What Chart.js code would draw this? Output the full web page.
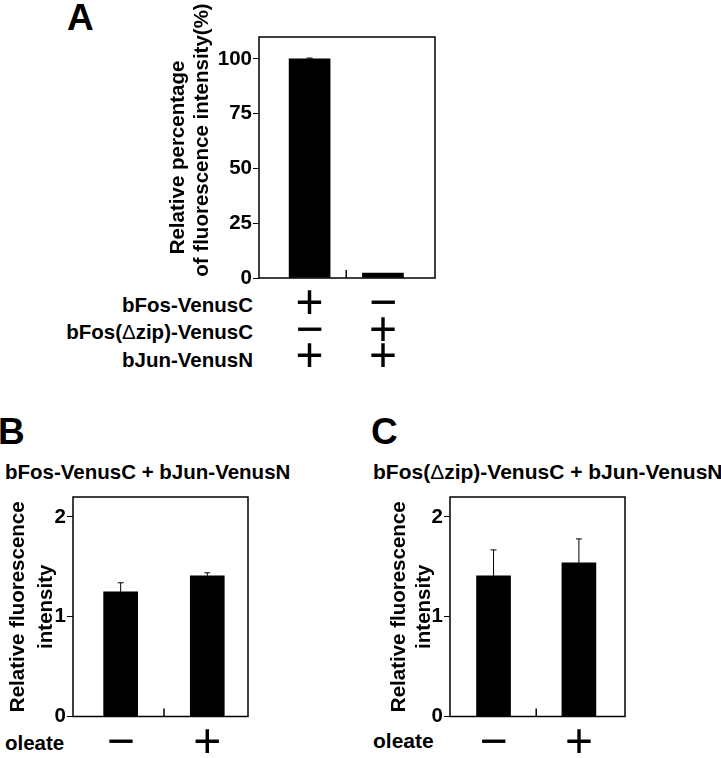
<!DOCTYPE html>
<html><head><meta charset="utf-8">
<script src="https://cdn.jsdelivr.net/npm/chart.js@4.4.1/dist/chart.umd.min.js"></script>
<style>
html,body{margin:0;padding:0;background:#fff;}
body{width:721px;height:758px;position:relative;overflow:hidden;font-family:'Liberation Sans',Arial,sans-serif;color:#000;}
.t{position:absolute;white-space:nowrap;font-weight:bold;font-size:20.5px;line-height:20px;}
.r{text-align:right;}
.panel{position:absolute;font-weight:bold;line-height:1;white-space:nowrap;font-size:37px;}
.d{font-weight:normal;}
canvas{position:absolute;}
</style></head><body>
<div class="panel" style="left:67px;top:-1px;">A</div>
<div class="panel" style="left:-2px;top:413px;">B</div>
<div class="panel" style="left:371px;top:413px;">C</div>
<div id="rows"></div>
<div class="t" id="subB" style="left:5px;top:462px;"></div>
<div class="t" id="subC" style="left:373px;top:462px;font-size:21px;"></div>
<div class="t" style="left:5px;top:733px;">oleate</div>
<div class="t" style="left:373px;top:731px;font-size:21px;">oleate</div>
<canvas id="cA" width="480" height="395" style="left:0;top:0;"></canvas>
<canvas id="cB" width="300" height="378" style="left:0;top:380px;"></canvas>
<canvas id="cC" width="361" height="378" style="left:360px;top:380px;"></canvas>
<script>
// ---------- data ----------
const barPositions = [1, 2];
const constructRows = ['bFos-VenusC', 'bFos(\u0394zip)-VenusC', 'bJun-VenusN'];
const signsA = [['+', '\u2212', '+'], ['\u2212', '+', '+']];   // per bar: rows top→bottom
const valuesA = [100, 2.3];
const errorsA = [0.4, 0];
const yTicksA = [0, 25, 50, 75, 100];
const titleA = ['Relative percentage', 'of fluorescence intensity(%)'];

const oleateSigns = ['\u2212', '+'];
const subtitleB = 'bFos-VenusC + bJun-VenusN';
const valuesB = [1.25, 1.41];
const errorsB = [0.09, 0.03];
const subtitleC = 'bFos(\u0394zip)-VenusC + bJun-VenusN';
const valuesC = [1.41, 1.54];
const errorsC = [0.26, 0.24];
const yTicksBC = [0, 1, 2];
const titleBC = ['Relative fluorescence', 'intensity'];

// ---------- text ----------
function withDelta(s) {
  return s.replace('\u0394', '<span class="d">\u0394</span>');
}
const rowTops = [295.2, 321.9, 350.2];
document.getElementById('rows').innerHTML = constructRows.map((r, i) =>
  '<div class="t r" style="right:468px;top:' + rowTops[i] + 'px;">' + withDelta(r) + '</div>').join('');
document.getElementById('subB').innerHTML = withDelta(subtitleB);
document.getElementById('subC').innerHTML = withDelta(subtitleC);

// ---------- charts ----------
const FONT = 'Liberation Sans';
function makeChart(id, o) {
  const cv = document.getElementById(id);
  const W = cv.width, H = cv.height;
  const deco = {
    id: 'deco',
    afterDatasetsDraw(chart) {
      const {ctx, chartArea: a, scales: {x, y}} = chart;
      ctx.save();
      ctx.strokeStyle = '#000';
      ctx.lineWidth = 1;
      const meta = chart.getDatasetMeta(0);
      meta.data.forEach((el, i) => {
        const e = o.errors[i];
        if (!e) return;
        const yt = y.getPixelForValue(o.values[i] + e);
        ctx.beginPath();
        ctx.moveTo(el.x, el.y); ctx.lineTo(el.x, yt);
        ctx.moveTo(el.x - 3, yt); ctx.lineTo(el.x + 3, yt);
        ctx.stroke();
      });
      const xm = x.getPixelForValue((barPositions[0] + barPositions[1]) / 2);
      ctx.lineWidth = 1.5;
      ctx.beginPath(); ctx.moveTo(xm, a.bottom); ctx.lineTo(xm, a.bottom - 8); ctx.stroke();
      ctx.strokeRect(a.left, a.top, a.right - a.left, a.bottom - a.top);
      if (o.extraTitle) {
        // second title line, centred on its own height (as in the original figure)
        ctx.translate(o.extraTitle.x, o.extraTitle.y);
        ctx.rotate(-Math.PI / 2);
        ctx.fillStyle = '#000';
        ctx.font = 'bold 20.5px "' + FONT + '"';
        ctx.textAlign = 'center';
        ctx.textBaseline = 'middle';
        ctx.fillText(o.extraTitle.text, 0, 0);
      }
      ctx.restore();
    }
  };
  return new Chart(cv, {
    type: 'bar',
    data: { datasets: [{
      data: barPositions.map((p, i) => ({x: p, y: o.values[i]})),
      backgroundColor: '#000', borderWidth: 0, barThickness: o.barThickness
    }]},
    options: {
      responsive: false, animation: false, devicePixelRatio: 1,
      layout: { padding: { left: 0, top: o.area.top, right: W - o.area.right, bottom: 0 } },
      plugins: { legend: {display: false}, tooltip: {enabled: false} },
      scales: {
        x: {
          type: 'linear', min: o.xMin, max: o.xMax, offset: false,
          afterBuildTicks: s => { s.ticks = barPositions.map(v => ({value: v})); },
          afterFit: s => { s.height = H - o.area.bottom; },
          grid: { display: false, drawTicks: false }, border: { display: false },
          ticks: {
            autoSkip: false, maxRotation: 0, minRotation: 0, padding: o.xPad, color: '#000',
            font: { family: FONT, size: 48, weight: 'normal', lineHeight: o.xLine },
            callback: v => o.xLabels[barPositions.indexOf(v)]
          }
        },
        y: {
          type: 'linear', min: 0, max: o.yMax,
          afterBuildTicks: s => { s.ticks = o.yTicks.map(v => ({value: v})); },
          afterFit: s => { s.width = o.area.left; },
          grid: { drawOnChartArea: false, drawTicks: true, tickLength: 6, color: '#000', lineWidth: 1 },
          border: { display: false },
          ticks: { padding: 1, color: '#000', font: { family: FONT, size: 20.5, weight: 'bold' } },
          title: {
            display: true, text: o.title, color: '#000', padding: { top: o.titlePad, bottom: 0 },
            font: { family: FONT, size: 20.5, weight: 'bold', lineHeight: o.titleLine }
          }
        }
      }
    },
    plugins: [deco]
  });
}

makeChart('cA', {
  values: valuesA, errors: errorsA, yTicks: yTicksA, yMax: 110,
  xMin: 0.31, xMax: 2.71, barThickness: 41,
  xLabels: signsA, xLine: '26.5px', xPad: 14,
  title: titleA[0], titleLine: '24px', titlePad: 166.5,
  extraTitle: { text: titleA[1], x: 202.5, y: 140 },
  area: { left: 259, top: 37, right: 435, bottom: 278 }
});
makeChart('cB', {
  values: valuesB, errors: errorsB, yTicks: yTicksBC, yMax: 2.2,
  xMin: 0.45, xMax: 2.47, barThickness: 34,
  xLabels: oleateSigns, xLine: '26.5px', xPad: 14,
  title: titleBC, titleLine: '28px', titlePad: 4,
  area: { left: 73, top: 117, right: 248, bottom: 336.5 }
});
makeChart('cC', {
  values: valuesC, errors: errorsC, yTicks: yTicksBC, yMax: 2.2,
  xMin: 0.49, xMax: 2.54, barThickness: 34,
  xLabels: oleateSigns, xLine: '26.5px', xPad: 14,
  title: titleBC, titleLine: '25px', titlePad: 26.5,
  area: { left: 90, top: 117, right: 265, bottom: 336.5 }
});
</script>
</body></html>
